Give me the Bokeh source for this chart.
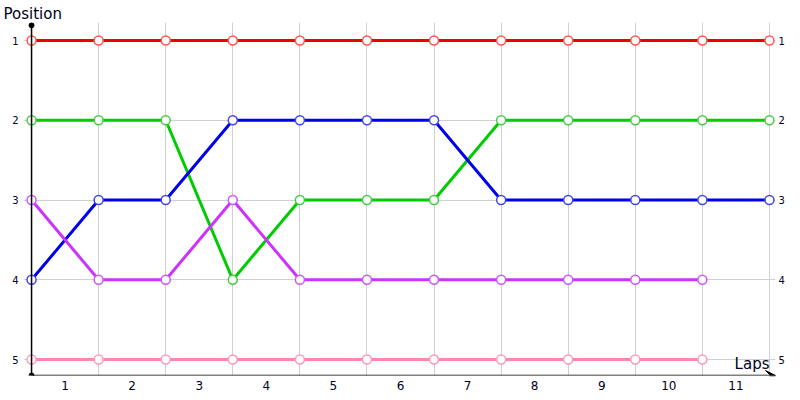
from bokeh.plotting import figure
from bokeh.models import Range1d, FixedTicker, LinearAxis, Label, Arrow, VeeHead, Title
from bokeh.embed import file_html
from bokeh.resources import INLINE

laps = [0, 1, 2, 3, 4, 5, 6, 7, 8, 9, 10, 11]
lap_tick_pos = [0.5, 1.5, 2.5, 3.5, 4.5, 5.5, 6.5, 7.5, 8.5, 9.5, 10.5]
lap_labels = ["1", "2", "3", "4", "5", "6", "7", "8", "9", "10", "11"]
positions = [1, 2, 3, 4, 5]

red_pos = [1, 1, 1, 1, 1, 1, 1, 1, 1, 1, 1, 1]
green_pos = [2, 2, 2, 4, 3, 3, 3, 2, 2, 2, 2, 2]
blue_pos = [4, 3, 3, 2, 2, 2, 2, 3, 3, 3, 3, 3]
purple_pos = [3, 4, 4, 3, 4, 4, 4, 4, 4, 4, 4]
pink_pos = [5, 5, 5, 5, 5, 5, 5, 5, 5, 5, 5]

series = [
    (red_pos, "#ee0000", "#ff5555"),
    (green_pos, "#00cc00", "#44cc44"),
    (blue_pos, "#0000ee", "#4444ee"),
    (purple_pos, "#cc33ff", "#cc55ff"),
    (pink_pos, "#ff88aa", "#ff99bb"),
]

FONT = "DejaVu Sans"
TXT = "#000022"

X0, X1 = -0.12, 11.09
Y_TOP_AXIS, Y_BOT = 0.81, 5.2

p = figure(width=800, height=400,
           x_range=Range1d(X0, X1), y_range=Range1d(Y_BOT, 0.7743),
           output_backend="svg", toolbar_location=None,
           min_border_left=23, min_border_right=25,
           min_border_top=22, min_border_bottom=25)
p.outline_line_color = None
p.background_fill_color = "white"

t = Title(text="Position", align="left", offset=-20, standoff=0,
          text_font=FONT, text_font_size="15px", text_font_style="normal",
          text_color=TXT)
p.add_layout(t, "above")

# grids
p.xgrid.ticker = FixedTicker(ticks=laps)
p.ygrid.ticker = FixedTicker(ticks=positions)
p.xgrid.grid_line_color = "#d0d0d0"
p.ygrid.grid_line_color = "#d0d0d0"

# x axis
xa = p.xaxis[0]
xa.ticker = FixedTicker(ticks=lap_tick_pos)
xa.major_label_overrides = {t: l for t, l in zip(lap_tick_pos, lap_labels)}
xa.major_tick_line_color = None
xa.minor_tick_line_color = None
xa.major_tick_out = 0
xa.major_label_standoff = 5
xa.axis_line_color = None
xa.major_label_text_font = FONT
xa.major_label_text_font_size = "12px"
xa.major_label_text_color = TXT

# left y axis
ya = p.yaxis[0]
ya.ticker = FixedTicker(ticks=positions)
ya.major_tick_line_color = None
ya.minor_tick_line_color = None
ya.major_tick_out = 0
ya.major_label_standoff = 5
ya.axis_line_color = None
ya.major_label_text_font = FONT
ya.major_label_text_font_size = "10px"
ya.major_label_text_color = TXT

# right y axis (labels only)
ra = LinearAxis(ticker=FixedTicker(ticks=positions))
ra.axis_line_color = None
ra.major_tick_line_color = None
ra.minor_tick_line_color = None
ra.major_tick_out = 0
ra.major_label_standoff = 3
ra.major_label_text_font = FONT
ra.major_label_text_font_size = "10px"
ra.major_label_text_color = TXT
p.add_layout(ra, "right")

# axis lines
p.add_layout(Arrow(end=None, x_start=0, y_start=Y_TOP_AXIS, x_end=0, y_end=Y_BOT,
                   line_color="black", line_width=1.5))
p.add_layout(Arrow(end=VeeHead(size=10, fill_color="black", line_color="black"),
                   x_start=0, y_start=Y_BOT, x_end=X1, y_end=Y_BOT,
                   line_color="black", line_width=1.5))
p.scatter([0, 0], [Y_TOP_AXIS, Y_BOT], size=5, color="black")

# series
for vals, col, mcol in series:
    xs = laps[:len(vals)]
    p.line(xs, vals, line_color=col, line_width=3)
for vals, col, mcol in series:
    xs = laps[:len(vals)]
    p.scatter(xs, vals, size=9, fill_color="white", line_color=mcol, line_width=1.5)

p.add_layout(Label(x=11.0, y=5.165, text="Laps", text_font=FONT,
                   text_font_size="15px", text_color=TXT,
                   text_align="right", text_baseline="bottom"))

open("out.html", "w").write(file_html(p, INLINE))
